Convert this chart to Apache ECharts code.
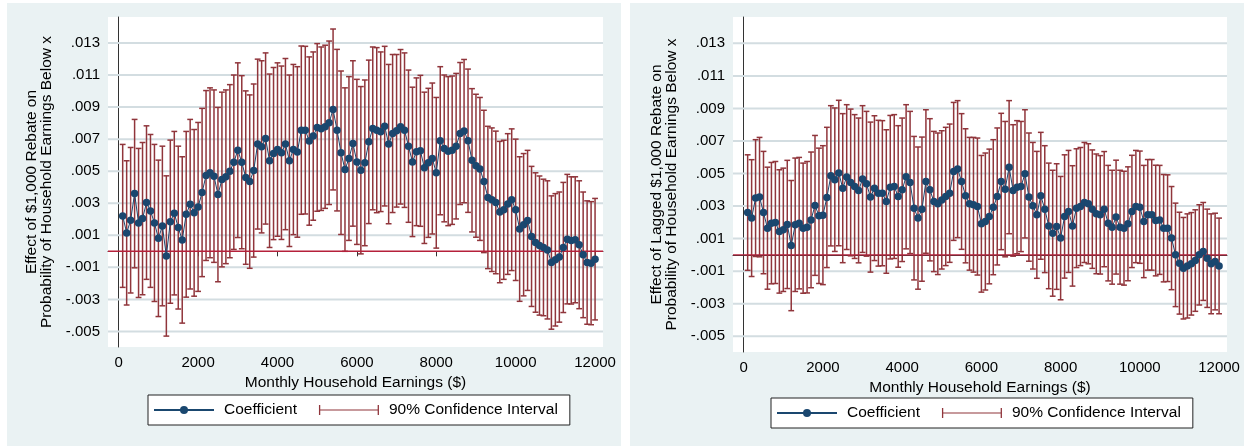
<!DOCTYPE html>
<html>
<head>
<meta charset="utf-8">
<script src="https://cdn.jsdelivr.net/npm/echarts@6/dist/echarts.min.js"></script>
<style>
  html, body { margin: 0; padding: 0; background: #fff; }
  #chart { width: 1244px; height: 446px; }
</style>
</head>
<body>
<div id="chart"></div>
<script>
// monthly household earnings thresholds ($)
var earnings = [
  100, 200, 300, 400, 500, 600, 700, 800, 900, 1000,
  1100, 1200, 1300, 1400, 1500, 1600, 1700, 1800, 1900, 2000,
  2100, 2200, 2300, 2400, 2500, 2600, 2700, 2800, 2900, 3000,
  3100, 3200, 3300, 3400, 3500, 3600, 3700, 3800, 3900, 4000,
  4100, 4200, 4300, 4400, 4500, 4600, 4700, 4800, 4900, 5000,
  5100, 5200, 5300, 5400, 5500, 5600, 5700, 5800, 5900, 6000,
  6100, 6200, 6300, 6400, 6500, 6600, 6700, 6800, 6900, 7000,
  7100, 7200, 7300, 7400, 7500, 7600, 7700, 7800, 7900, 8000,
  8100, 8200, 8300, 8400, 8500, 8600, 8700, 8800, 8900, 9000,
  9100, 9200, 9300, 9400, 9500, 9600, 9700, 9800, 9900, 10000,
  10100, 10200, 10300, 10400, 10500, 10600, 10700, 10800, 10900, 11000,
  11100, 11200, 11300, 11400, 11500, 11600, 11700, 11800, 11900, 12000
];

// left panel: effect of $1,000 rebate
var coefNow = [
  0.00221, 0.00115, 0.00194, 0.00360, 0.00177, 0.00204, 0.00304, 0.00252, 0.00177, 0.00081,
  0.00158, -0.00029, 0.00185, 0.00238, 0.00148, 0.00071, 0.00231, 0.00294, 0.00240, 0.00277,
  0.00367, 0.00473, 0.00490, 0.00469, 0.00354, 0.00448, 0.00465, 0.00500, 0.00556, 0.00631,
  0.00556, 0.00460, 0.00435, 0.00504, 0.00669, 0.00652, 0.00704, 0.00565, 0.00610, 0.00635,
  0.00615, 0.00669, 0.00565, 0.00635, 0.00620, 0.00756, 0.00756, 0.00688, 0.00719, 0.00773,
  0.00765, 0.00777, 0.00802, 0.00885, 0.00756, 0.00615, 0.00510, 0.00579, 0.00673, 0.00558,
  0.00506, 0.00552, 0.00683, 0.00767, 0.00756, 0.00746, 0.00781, 0.00669, 0.00735, 0.00752,
  0.00777, 0.00756, 0.00656, 0.00558, 0.00621, 0.00627, 0.00521, 0.00552, 0.00579, 0.00490,
  0.00690, 0.00642, 0.00625, 0.00631, 0.00656, 0.00735, 0.00750, 0.00690, 0.00568, 0.00534,
  0.00514, 0.00436, 0.00336, 0.00322, 0.00305, 0.00245, 0.00259, 0.00295, 0.00322, 0.00259,
  0.00139, 0.00166, 0.00193, 0.00093, 0.00055, 0.00036, 0.00024, 0.00009, -0.00070, -0.00053,
  -0.00036, 0.00024, 0.00076, 0.00068, 0.00072, 0.00041, -0.00022, -0.00070, -0.00074, -0.00049
];
var upperNow = [
  0.00667, 0.00565, 0.00648, 0.00823, 0.00642, 0.00679, 0.00783, 0.00729, 0.00667, 0.00569,
  0.00656, 0.00471, 0.00694, 0.00748, 0.00656, 0.00590, 0.00748, 0.00823, 0.00760, 0.00804,
  0.00892, 0.01003, 0.01020, 0.01007, 0.00898, 0.00993, 0.01007, 0.01040, 0.01100, 0.01176,
  0.01096, 0.01001, 0.00976, 0.01044, 0.01199, 0.01189, 0.01238, 0.01106, 0.01147, 0.01176,
  0.01156, 0.01203, 0.01100, 0.01166, 0.01152, 0.01281, 0.01279, 0.01213, 0.01244, 0.01296,
  0.01275, 0.01286, 0.01312, 0.01387, 0.01260, 0.01125, 0.01020, 0.01090, 0.01189, 0.01073,
  0.01028, 0.01069, 0.01193, 0.01275, 0.01271, 0.01244, 0.01279, 0.01166, 0.01228, 0.01228,
  0.01259, 0.01238, 0.01131, 0.01024, 0.01082, 0.01098, 0.00993, 0.01017, 0.01050, 0.00960,
  0.01152, 0.01100, 0.01090, 0.01094, 0.01110, 0.01178, 0.01197, 0.01137, 0.01015, 0.00980,
  0.00960, 0.00880, 0.00780, 0.00770, 0.00750, 0.00686, 0.00693, 0.00734, 0.00764, 0.00700,
  0.00590, 0.00610, 0.00630, 0.00530, 0.00490, 0.00470, 0.00450, 0.00440, 0.00346, 0.00360,
  0.00370, 0.00430, 0.00480, 0.00465, 0.00465, 0.00440, 0.00370, 0.00315, 0.00310, 0.00330
];
var lowerNow = [
  -0.00225, -0.00335, -0.00260, -0.00103, -0.00288, -0.00271, -0.00175, -0.00225, -0.00313, -0.00407,
  -0.00340, -0.00529, -0.00324, -0.00272, -0.00360, -0.00448, -0.00286, -0.00235, -0.00280, -0.00250,
  -0.00158, -0.00057, -0.00040, -0.00069, -0.00190, -0.00097, -0.00077, -0.00040, 0.00012, 0.00086,
  0.00016, -0.00081, -0.00106, -0.00036, 0.00139, 0.00115, 0.00170, 0.00024, 0.00073, 0.00094,
  0.00074, 0.00135, 0.00030, 0.00104, 0.00088, 0.00231, 0.00233, 0.00163, 0.00194, 0.00250,
  0.00255, 0.00268, 0.00292, 0.00383, 0.00252, 0.00105, 0.00000, 0.00068, 0.00157, 0.00043,
  -0.00016, 0.00035, 0.00173, 0.00259, 0.00241, 0.00248, 0.00283, 0.00172, 0.00242, 0.00276,
  0.00295, 0.00274, 0.00181, 0.00092, 0.00160, 0.00156, 0.00049, 0.00087, 0.00108, 0.00020,
  0.00228, 0.00184, 0.00160, 0.00168, 0.00202, 0.00292, 0.00303, 0.00243, 0.00121, 0.00088,
  0.00068, -0.00008, -0.00108, -0.00126, -0.00140, -0.00196, -0.00175, -0.00144, -0.00120, -0.00182,
  -0.00312, -0.00278, -0.00244, -0.00344, -0.00380, -0.00398, -0.00402, -0.00422, -0.00486, -0.00466,
  -0.00442, -0.00382, -0.00328, -0.00329, -0.00321, -0.00358, -0.00414, -0.00455, -0.00458, -0.00428
];

// right panel: effect of lagged $1,000 rebate
var coefLag = [
  0.00260, 0.00226, 0.00349, 0.00355, 0.00260, 0.00164, 0.00195, 0.00199, 0.00144, 0.00154,
  0.00187, 0.00057, 0.00185, 0.00195, 0.00164, 0.00170, 0.00215, 0.00304, 0.00240, 0.00244,
  0.00353, 0.00486, 0.00462, 0.00503, 0.00410, 0.00478, 0.00445, 0.00420, 0.00396, 0.00466,
  0.00437, 0.00355, 0.00410, 0.00379, 0.00379, 0.00328, 0.00416, 0.00420, 0.00359, 0.00400,
  0.00480, 0.00445, 0.00287, 0.00226, 0.00281, 0.00451, 0.00400, 0.00328, 0.00314, 0.00338,
  0.00359, 0.00379, 0.00513, 0.00527, 0.00451, 0.00363, 0.00314, 0.00308, 0.00297, 0.00191,
  0.00205, 0.00236, 0.00293, 0.00359, 0.00451, 0.00404, 0.00539, 0.00396, 0.00416, 0.00420,
  0.00498, 0.00355, 0.00302, 0.00246, 0.00363, 0.00281, 0.00178, 0.00133, 0.00174, 0.00103,
  0.00236, 0.00267, 0.00178, 0.00287, 0.00297, 0.00322, 0.00314, 0.00281, 0.00252, 0.00246,
  0.00281, 0.00195, 0.00170, 0.00232, 0.00170, 0.00164, 0.00191, 0.00267, 0.00297, 0.00293,
  0.00205, 0.00246, 0.00246, 0.00211, 0.00215, 0.00164, 0.00164, 0.00103, 0.00000, -0.00051,
  -0.00082, -0.00068, -0.00055, -0.00035, 0.00000, 0.00021, -0.00021, -0.00055, -0.00041, -0.00068
];
var upperLag = [
  0.00615, 0.00585, 0.00708, 0.00722, 0.00636, 0.00539, 0.00568, 0.00574, 0.00523, 0.00533,
  0.00581, 0.00457, 0.00595, 0.00599, 0.00564, 0.00574, 0.00632, 0.00734, 0.00656, 0.00671,
  0.00784, 0.00917, 0.00903, 0.00950, 0.00868, 0.00923, 0.00896, 0.00862, 0.00841, 0.00917,
  0.00882, 0.00816, 0.00855, 0.00827, 0.00825, 0.00769, 0.00857, 0.00862, 0.00794, 0.00841,
  0.00923, 0.00882, 0.00728, 0.00663, 0.00724, 0.00892, 0.00837, 0.00759, 0.00749, 0.00763,
  0.00784, 0.00804, 0.00937, 0.00948, 0.00868, 0.00775, 0.00722, 0.00722, 0.00718, 0.00611,
  0.00626, 0.00650, 0.00708, 0.00780, 0.00870, 0.00820, 0.00948, 0.00800, 0.00825, 0.00820,
  0.00892, 0.00749, 0.00691, 0.00636, 0.00753, 0.00671, 0.00564, 0.00520, 0.00560, 0.00482,
  0.00615, 0.00642, 0.00548, 0.00652, 0.00660, 0.00691, 0.00683, 0.00645, 0.00620, 0.00610,
  0.00635, 0.00550, 0.00520, 0.00582, 0.00520, 0.00514, 0.00541, 0.00612, 0.00642, 0.00638,
  0.00550, 0.00586, 0.00586, 0.00551, 0.00550, 0.00494, 0.00492, 0.00420, 0.00318, 0.00262,
  0.00230, 0.00252, 0.00260, 0.00277, 0.00308, 0.00322, 0.00281, 0.00252, 0.00256, 0.00226
];
var lowerLag = [
  -0.00095, -0.00133, -0.00010, -0.00012, -0.00116, -0.00211, -0.00178, -0.00176, -0.00235, -0.00225,
  -0.00207, -0.00343, -0.00225, -0.00209, -0.00236, -0.00234, -0.00202, -0.00126, -0.00176, -0.00183,
  -0.00078, 0.00055, 0.00021, 0.00056, -0.00048, 0.00033, -0.00006, -0.00022, -0.00049, 0.00015,
  -0.00008, -0.00106, -0.00035, -0.00069, -0.00067, -0.00113, -0.00025, -0.00022, -0.00076, -0.00041,
  0.00037, 0.00008, -0.00154, -0.00211, -0.00162, 0.00010, -0.00037, -0.00103, -0.00121, -0.00087,
  -0.00066, -0.00046, 0.00089, 0.00106, 0.00034, -0.00049, -0.00094, -0.00106, -0.00124, -0.00229,
  -0.00216, -0.00178, -0.00122, -0.00062, 0.00032, -0.00012, 0.00130, -0.00008, 0.00007, 0.00020,
  0.00104, -0.00039, -0.00087, -0.00144, -0.00027, -0.00109, -0.00208, -0.00254, -0.00212, -0.00276,
  -0.00143, -0.00108, -0.00192, -0.00078, -0.00066, -0.00047, -0.00055, -0.00083, -0.00116, -0.00118,
  -0.00073, -0.00160, -0.00180, -0.00118, -0.00180, -0.00186, -0.00159, -0.00078, -0.00048, -0.00052,
  -0.00140, -0.00094, -0.00094, -0.00129, -0.00120, -0.00166, -0.00164, -0.00214, -0.00318, -0.00364,
  -0.00394, -0.00388, -0.00370, -0.00347, -0.00308, -0.00280, -0.00323, -0.00362, -0.00338, -0.00362
];

var yTicks = [-0.005, -0.003, -0.001, 0.001, 0.003, 0.005, 0.007, 0.009, 0.011, 0.013];
var xTicks = [0, 2000, 4000, 6000, 8000, 10000, 12000];
var xRange = [-270, 12200];
var yRange = [-0.00597, 0.01462];

var NAVY = '#1a476f', MAROON = '#90353b', ZERO = '#b5213b', GRIDC = '#d3dde1', BG = '#eaf2f3';
var FONT = 'Liberation Sans';

function fmtY(v) {
  var s = Math.abs(v).toFixed(3).replace(/^0/, '');
  return (v < 0 ? '-' : '') + s;
}

// vertical interval with caps at both ends
function ciItem(params, api) {
  var x = api.value(0);
  var lo = api.coord([x, api.value(1)]);
  var hi = api.coord([x, api.value(2)]);
  var w = 2.9;
  var st = { stroke: MAROON, lineWidth: 1.5 };
  return {
    type: 'group',
    children: [
      { type: 'line', shape: { x1: lo[0], y1: lo[1], x2: hi[0], y2: hi[1] }, style: st },
      { type: 'line', shape: { x1: lo[0] - w, y1: lo[1], x2: lo[0] + w, y2: lo[1] }, style: st },
      { type: 'line', shape: { x1: hi[0] - w, y1: hi[1], x2: hi[0] + w, y2: hi[1] }, style: st }
    ]
  };
}

// horizontal rules across the whole x range, broken between levels
function ruleData(levels) {
  var d = [];
  levels.forEach(function (t) {
    d.push([xRange[0], t], [xRange[1], t], [xRange[1], '-']);
  });
  return d;
}

function xAx(idx) {
  return {
    type: 'value', gridIndex: idx, min: xRange[0], max: xRange[1],
    name: 'Monthly Household Earnings ($)', nameLocation: 'middle', nameGap: 24,
    nameTextStyle: { fontFamily: FONT, fontSize: 15.5, color: '#000' },
    axisLine: { lineStyle: { color: '#333', width: 1 } },
    axisTick: { length: 5, lineStyle: { color: '#333' }, customValues: xTicks },
    axisLabel: {
      customValues: xTicks, formatter: function (v) { return String(v); },
      fontFamily: FONT, fontSize: 15, color: '#000', margin: 8
    },
    splitLine: { show: false }
  };
}

function yAx(idx, title) {
  return {
    type: 'value', gridIndex: idx, min: yRange[0], max: yRange[1],
    name: title, nameLocation: 'middle', nameGap: 54,
    nameTextStyle: { fontFamily: FONT, fontSize: 15.5, color: '#000', lineHeight: 15 },
    axisLine: { show: true, lineStyle: { color: '#333', width: 1 } },
    axisTick: { show: true, length: 5, lineStyle: { color: '#333' }, customValues: yTicks },
    axisLabel: { customValues: yTicks, formatter: fmtY, fontFamily: FONT, fontSize: 15, color: '#000', margin: 8 },
    splitLine: { show: false }
  };
}

function panelSeries(idx, coef, lower, upper) {
  var ciData = earnings.map(function (e, i) { return [e, lower[i], upper[i]]; });
  var coefData = earnings.map(function (e, i) { return [e, coef[i]]; });
  return [
    {
      name: 'gridlines', type: 'line', xAxisIndex: idx, yAxisIndex: idx, z: 1, silent: true,
      data: ruleData(yTicks), showSymbol: false, symbol: 'none', connectNulls: false,
      lineStyle: { color: GRIDC, width: 2 }, emphasis: { disabled: true }
    },
    {
      name: '90% Confidence Interval', type: 'custom', xAxisIndex: idx, yAxisIndex: idx,
      renderItem: ciItem, data: ciData, encode: { x: 0, y: [1, 2] }, z: 2,
      itemStyle: { color: MAROON }
    },
    {
      name: 'zero', type: 'line', xAxisIndex: idx, yAxisIndex: idx, z: 3, silent: true,
      data: ruleData([0]), showSymbol: false, symbol: 'none',
      lineStyle: { color: ZERO, width: 1.4 }, emphasis: { disabled: true }
    },
    {
      name: 'Coefficient', type: 'line', xAxisIndex: idx, yAxisIndex: idx, data: coefData, z: 4,
      symbol: 'circle', symbolSize: 7.5, showSymbol: true,
      lineStyle: { color: NAVY, width: 1 }, itemStyle: { color: NAVY }
    }
  ];
}

var ciIcon = 'path://M0,0h1.3v4.4h57.4v-4.4h1.3v10h-1.3v-4.4h-57.4v4.4h-1.3z';

function legendAt(left, top) {
  return {
    left: left, top: top, orient: 'horizontal',
    padding: [7, 12, 7, 5], itemWidth: 60, itemHeight: 10, itemGap: 22,
    backgroundColor: '#fff', borderColor: '#222', borderWidth: 1, borderRadius: 0,
    textStyle: { fontFamily: FONT, fontSize: 15.5, color: '#000', padding: [0, 0, 0, 5] },
    selectedMode: false,
    data: [{ name: 'Coefficient' }, { name: '90% Confidence Interval', icon: ciIcon }]
  };
}

var chart = echarts.init(document.getElementById('chart'), null, { renderer: 'canvas' });
chart.setOption({
  animation: false,
  backgroundColor: '#fff',
  graphic: [
    { type: 'rect', z: -10, silent: true, shape: { x: 7, y: 3, width: 614, height: 443 }, style: { fill: BG } },
    { type: 'rect', z: -10, silent: true, shape: { x: 630, y: 3, width: 614, height: 443 }, style: { fill: BG } }
  ],
  grid: [
    { left: 108, top: 17, width: 495, height: 330, show: true, z: 0, backgroundColor: '#fff', borderWidth: 0 },
    { left: 733, top: 17, width: 494, height: 335, show: true, z: 0, backgroundColor: '#fff', borderWidth: 0 }
  ],
  legend: [legendAt(148, 395), legendAt(771, 398)],
  xAxis: [xAx(0), xAx(1)],
  yAxis: [
    yAx(0, 'Effect of $1,000 Rebate on\nProbability of Household Earnings Below x'),
    yAx(1, 'Effect of Lagged $1,000 Rebate on\nProbability of Household Earnings Below x')
  ],
  series: panelSeries(0, coefNow, lowerNow, upperNow).concat(panelSeries(1, coefLag, lowerLag, upperLag))
});
</script>
</body>
</html>
